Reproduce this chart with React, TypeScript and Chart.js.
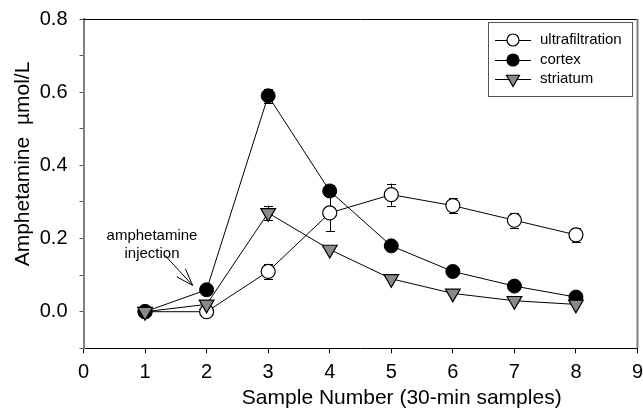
import React, { useEffect, useRef } from "react";
import { Chart, registerables } from "chart.js";

Chart.register(...registerables);

// ---- data ----
const samples = [1, 2, 3, 4, 5, 6, 7, 8];
const ultrafiltration = [0, 0, 0.11, 0.27, 0.32, 0.29, 0.25, 0.21];
const ultrafiltrationErr = [0, 0, 0.02, 0.05, 0.03, 0.02, 0.02, 0.02];
const cortex = [0, 0.06, 0.59, 0.33, 0.18, 0.11, 0.07, 0.04];
const cortexErr = [0, 0, 0.02, 0.015, 0, 0, 0, 0];
const striatum = [0, 0.02, 0.27, 0.17, 0.09, 0.05, 0.03, 0.02];
const striatumErr = [0, 0, 0.02, 0, 0, 0, 0, 0];
const seriesNames = ["ultrafiltration", "cortex", "striatum"];
const xTickLabels = ["0", "1", "2", "3", "4", "5", "6", "7", "8", "9"];
const yTickValues = [0, 0.2, 0.4, 0.6, 0.8];
const yTickLabels = ["0.0", "0.2", "0.4", "0.6", "0.8"];
const xTitle = "Sample Number (30-min samples)";
const yTitle = "Amphetamine  \u00b5mol/L";
const noteLines = ["amphetamine", "injection"];

const FONT = "'Liberation Sans', Arial, sans-serif";
const GRAY = "#8a8a8a";

const errorBarPlugin = {
  id: "errorBars",
  beforeDatasetsDraw(chart: any) {
    const ctx = chart.ctx;
    const xs = chart.scales.x;
    const ys = chart.scales.y;
    ctx.save();
    ctx.strokeStyle = "#000";
    ctx.lineWidth = 1;
    chart.data.datasets.forEach((ds: any) => {
      const errs: number[] = ds.errors || [];
      ds.data.forEach((p: any, i: number) => {
        const e = errs[i];
        if (!e) return;
        const px = Math.round(xs.getPixelForValue(p.x)) + 0.5;
        const y1 = ys.getPixelForValue(p.y + e);
        const y2 = ys.getPixelForValue(p.y - e);
        ctx.beginPath();
        ctx.moveTo(px, y1);
        ctx.lineTo(px, y2);
        ctx.moveTo(px - 4.5, Math.round(y1) + 0.5);
        ctx.lineTo(px + 4.5, Math.round(y1) + 0.5);
        ctx.moveTo(px - 4.5, Math.round(y2) + 0.5);
        ctx.lineTo(px + 4.5, Math.round(y2) + 0.5);
        ctx.stroke();
      });
    });
    ctx.restore();
  },
};

const decorPlugin = {
  id: "decor",
  afterDraw(chart: any) {
    const ctx = chart.ctx;
    const a = chart.chartArea;
    const xs = chart.scales.x;
    const ys = chart.scales.y;
    ctx.save();
    // frame top and right
    ctx.strokeStyle = "#000";
    ctx.lineWidth = 1;
    ctx.beginPath();
    ctx.moveTo(a.left, Math.round(a.top) + 0.5);
    ctx.lineTo(a.right, Math.round(a.top) + 0.5);
    ctx.stroke();
    ctx.strokeStyle = "#808080";
    ctx.lineWidth = 2;
    ctx.beginPath();
    ctx.moveTo(a.right, a.top);
    ctx.lineTo(a.right, a.bottom);
    ctx.stroke();

    // axis titles
    ctx.fillStyle = "#000";
    ctx.font = `21px ${FONT}`;
    ctx.textAlign = "center";
    ctx.textBaseline = "alphabetic";
    ctx.fillText(xTitle, xs.getPixelForValue(5.17), 404);
    ctx.save();
    ctx.translate(28.5, 164);
    ctx.rotate(-Math.PI / 2);
    ctx.fillText(yTitle, 0, 0);
    ctx.restore();

    // annotation
    ctx.font = `15px ${FONT}`;
    const tx = xs.getPixelForValue(1.113);
    ctx.fillText(noteLines[0], tx, ys.getPixelForValue(0.197));
    ctx.fillText(noteLines[1], tx, ys.getPixelForValue(0.148));
    const x0 = xs.getPixelForValue(1.324), y0 = ys.getPixelForValue(0.154);
    const x1 = xs.getPixelForValue(1.773), y1 = ys.getPixelForValue(0.072);
    const ang = Math.atan2(y0 - y1, x0 - x1);
    ctx.strokeStyle = "#000";
    ctx.lineWidth = 1;
    ctx.beginPath();
    ctx.moveTo(x0, y0);
    ctx.lineTo(x1, y1);
    const hl = 18, ha = (19 * Math.PI) / 180;
    ctx.moveTo(x1 + Math.cos(ang + ha) * hl, y1 + Math.sin(ang + ha) * hl);
    ctx.lineTo(x1, y1);
    ctx.lineTo(x1 + Math.cos(ang - ha) * hl, y1 + Math.sin(ang - ha) * hl);
    ctx.stroke();

    // legend
    const bx = 488.5, by = 22.5, bw = 144, bh = 74;
    ctx.strokeStyle = "#555";
    ctx.lineWidth = 1;
    ctx.strokeRect(bx, by, bw, bh);
    const rows = [40, 60, 79];
    ctx.font = `15px ${FONT}`;
    ctx.textAlign = "left";
    ctx.textBaseline = "middle";
    rows.forEach((ry, i) => {
      ctx.strokeStyle = "#000";
      ctx.lineWidth = 1;
      ctx.beginPath();
      ctx.moveTo(495, ry + 0.5);
      ctx.lineTo(531, ry + 0.5);
      ctx.stroke();
      const cx = 513;
      ctx.beginPath();
      if (i === 2) {
        const r = 7.5;
        for (let k = 0; k < 3; k++) {
          const t = Math.PI + (k * 2 * Math.PI) / 3;
          const px = cx + Math.sin(t) * r;
          const py = ry - Math.cos(t) * r;
          if (k === 0) ctx.moveTo(px, py);
          else ctx.lineTo(px, py);
        }
        ctx.closePath();
        ctx.fillStyle = GRAY;
      } else {
        ctx.arc(cx, ry, 6, 0, Math.PI * 2);
        ctx.fillStyle = i === 0 ? "#fff" : "#000";
      }
      ctx.fill();
      ctx.lineWidth = 1.2;
      ctx.stroke();
      ctx.fillStyle = "#000";
      ctx.fillText(seriesNames[i], 540, ry);
    });
    ctx.restore();
  },
};

export default function App() {
  const ref = useRef<HTMLCanvasElement | null>(null);

  useEffect(() => {
    document.body.style.margin = "0";
    if (!ref.current) return;
    const mk = (vals: number[]) => samples.map((x, i) => ({ x, y: vals[i] }));
    const chart = new Chart(ref.current, {
      type: "scatter",
      data: {
        datasets: [
          {
            label: seriesNames[0],
            data: mk(ultrafiltration),
            errors: ultrafiltrationErr,
            showLine: true,
            borderColor: "#000",
            borderWidth: 1,
            pointRadius: 7,
            pointBackgroundColor: "#fff",
            pointBorderColor: "#000",
            pointBorderWidth: 1.2,
            order: 3,
          } as any,
          {
            label: seriesNames[1],
            data: mk(cortex),
            errors: cortexErr,
            showLine: true,
            borderColor: "#000",
            borderWidth: 1,
            pointRadius: 7,
            pointBackgroundColor: "#000",
            pointBorderColor: "#000",
            pointBorderWidth: 1,
            order: 2,
          } as any,
          {
            label: seriesNames[2],
            data: mk(striatum),
            errors: striatumErr,
            showLine: true,
            borderColor: "#000",
            borderWidth: 1,
            pointStyle: "triangle",
            pointRotation: 180,
            pointRadius: 8.5,
            pointBackgroundColor: GRAY,
            pointBorderColor: "#000",
            pointBorderWidth: 1.2,
            order: 1,
          } as any,
        ],
      },
      options: {
        animation: false,
        responsive: false,
        devicePixelRatio: 1,
        layout: { autoPadding: false, padding: { top: 19, right: 5.5, left: 0, bottom: 0 } },
        plugins: { legend: { display: false }, tooltip: { enabled: false } },
        elements: { line: { tension: 0 } },
        scales: {
          x: {
            type: "linear",
            min: 0,
            max: 9,
            afterFit: (s: any) => {
              s.height = 59.7;
              s.paddingLeft = 0;
              s.paddingRight = 0;
            },
            ticks: {
              stepSize: 1,
              autoSkip: false,
              color: "#000",
              padding: 7,
              font: { family: FONT, size: 20 },
              callback: (v: any) => xTickLabels[Math.round(Number(v))] ?? "",
            },
            grid: { drawOnChartArea: false, drawTicks: true, tickLength: 5, color: "#000" },
            border: { color: "#000", width: 1 },
          },
          y: {
            type: "linear",
            min: -0.1,
            max: 0.8,
            afterFit: (s: any) => {
              s.width = 83.5;
              s.paddingTop = 0;
              s.paddingBottom = 0;
            },
            ticks: {
              stepSize: 0.1,
              autoSkip: false,
              color: "#000",
              padding: 12,
              font: { family: FONT, size: 20 },
              callback: (v: any) => {
                const n = Number(v);
                const idx = yTickValues.findIndex((t) => Math.abs(t - n) < 1e-6);
                return idx >= 0 ? yTickLabels[idx] : "";
              },
            },
            grid: { drawOnChartArea: false, drawTicks: true, tickLength: 4, color: "#555" },
            border: { color: "#808080", width: 2 },
          },
        },
      } as any,
      plugins: [errorBarPlugin, decorPlugin],
    });
    return () => chart.destroy();
  }, []);

  return (
    <div style={{ width: 643, height: 408 }}>
      <canvas ref={ref} width={643} height={408} style={{ display: "block" }} />
    </div>
  );
}
